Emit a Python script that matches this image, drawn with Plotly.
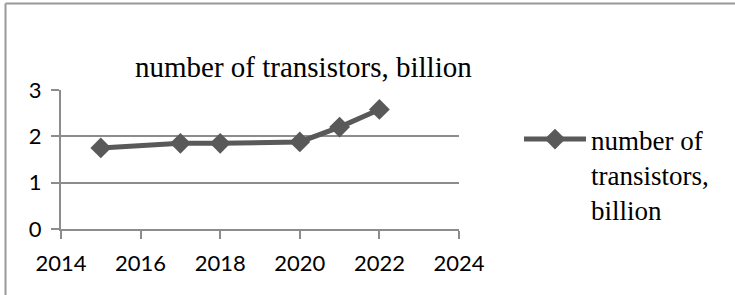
import plotly.graph_objects as go

years = [2015, 2017, 2018, 2020, 2021, 2022]
transistors = [1.75, 1.85, 1.85, 1.88, 2.2, 2.58]
series_name = "number of<br>transistors,<br>billion"
title_text = "number of transistors, billion"
x_ticks = [2014, 2016, 2018, 2020, 2022, 2024]
y_ticks = [0, 1, 2, 3]

W, H = 735, 295
L, R, T, B = 61, 276, 90, 66
pw, ph = W - L - R, H - T - B

def px_x(p):
    return (p - L) / pw

def px_y(p):
    return (H - B - p) / ph

fig = go.Figure()
fig.add_trace(go.Scatter(
    x=years, y=transistors, name=series_name, mode="lines+markers",
    line=dict(color="#595959", width=5),
    marker=dict(symbol="diamond", size=16, color="#595959"),
))

grid = "#8c8c8c"
fig.update_layout(
    width=W, height=H,
    margin=dict(l=L, r=R, t=T, b=B),
    paper_bgcolor="white", plot_bgcolor="white",
    showlegend=True,
    legend=dict(x=px_x(519), xanchor="left", y=px_y(115), yanchor="top",
                valign="top", itemwidth=62,
                font=dict(family="Liberation Serif", size=27, color="black"),
                bgcolor="rgba(0,0,0,0)"),
    xaxis=dict(range=[2014, 2024], tickvals=x_ticks, showgrid=False,
               showline=True, linecolor=grid, linewidth=2,
               ticks="outside", ticklen=8, tickcolor=grid, tickwidth=2,
               ticklabelstandoff=6,
               tickfont=dict(family="Lato", size=22, color="black"),
               zeroline=False),
    yaxis=dict(range=[0, 3], tickvals=y_ticks, showgrid=True, gridcolor=grid,
               gridwidth=2, showline=True, linecolor=grid, linewidth=2,
               ticks="outside", ticklen=8, tickcolor=grid, tickwidth=2,
               ticklabelstandoff=5,
               tickfont=dict(family="Lato", size=22, color="black"),
               zeroline=False),
    annotations=[dict(text=title_text, xref="paper", yref="paper",
                      x=px_x(303), y=px_y(67), xanchor="center", yanchor="middle",
                      showarrow=False,
                      font=dict(family="Liberation Serif", size=29, color="black"))],
    shapes=[
        dict(type="line", xref="paper", yref="paper",
             x0=px_x(5.5), x1=px_x(5.5), y0=px_y(3.5), y1=px_y(300),
             line=dict(color="#999999", width=2)),
        dict(type="line", xref="paper", yref="paper",
             x0=px_x(5.5), x1=px_x(740), y0=px_y(3.5), y1=px_y(3.5),
             line=dict(color="#999999", width=2)),
    ],
)
fig.write_html("out.html", config={"displayModeBar": False},
               post_script="document.body.style.margin='0';")
